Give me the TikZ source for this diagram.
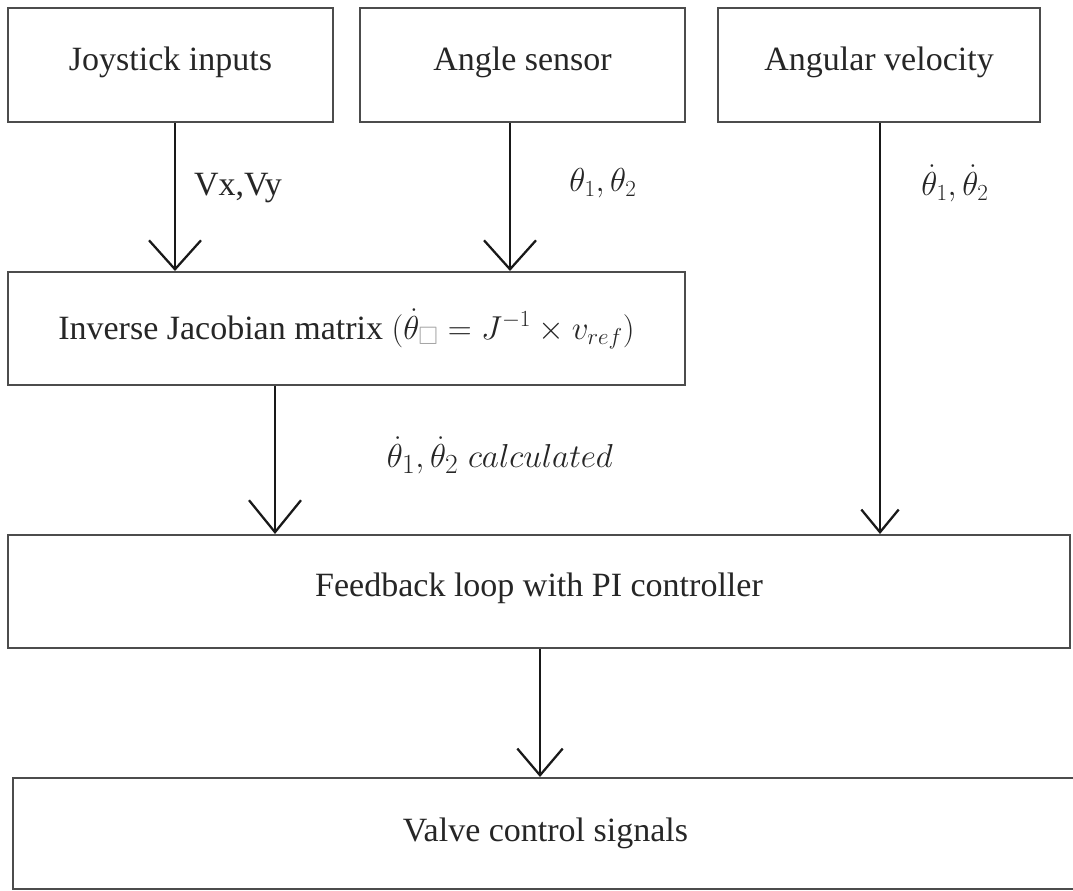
\documentclass[tikz,border=0pt]{standalone}
\usepackage{fontspec}
\setmainfont{Liberation Serif}
\usepackage{amssymb}
\usetikzlibrary{arrows.meta}
\begin{document}
\begin{tikzpicture}[x=0.75pt,y=-0.75pt,
  box/.style={draw=black!70,line width=1.5pt,fill=white,inner sep=0pt,text=black!85,font=\fontsize{25.5}{30}\selectfont},
  lbl/.style={inner sep=0pt,text=black!85,font=\fontsize{25.5}{30}\selectfont},
  mlbl/.style={inner sep=0pt,text=black!85,font=\fontsize{27}{32}\selectfont},
  conn/.style={line width=1.7pt,draw=black!90},
  tipbig/.style={-{Straight Barb[length=21.75pt,width=39pt]}},
  tipmid/.style={-{Straight Barb[length=24pt,width=39pt]}},
  tipsmall/.style={-{Straight Barb[length=17pt,width=28pt]}},
  tipval/.style={-{Straight Barb[length=20pt,width=34pt]}}]
\useasboundingbox (0,0) rectangle (1073,891);
\fill[white] (0,0) rectangle (1073,891);
\clip (0,0) rectangle (1073,891);

\node[box,minimum width=243.75pt,minimum height=85.5pt] (j) at (170.5,65) {\raisebox{9.75pt}{Joystick inputs}};
\node[box,minimum width=243.75pt,minimum height=85.5pt] (a) at (522.5,65) {\raisebox{9.75pt}{Angle sensor}};
\node[box,minimum width=241.5pt,minimum height=85.5pt] (av) at (879,65) {\raisebox{9.75pt}{Angular velocity}};
\node[box,minimum width=507.75pt,minimum height=84.75pt] (ij) at (346.5,328.5) {\raisebox{3.4pt}{Inverse Jacobian matrix {\fontsize{27}{32}\selectfont$(\dot\theta_{\textcolor{black!35}{\square}} = J^{-1}\times v_{ref})$}}};
\node[box,minimum width=796.5pt,minimum height=84.75pt] (fb) at (539,591.5) {\raisebox{9.5pt}{Feedback loop with PI controller}};
\node[box,minimum width=798.75pt,minimum height=83.25pt] (vc) at (545.5,833.5) {\raisebox{4.5pt}{Valve control signals}};

\node[lbl] (lvxy) at (238,188) {Vx,Vy};
\node[mlbl] (lth) at (603,183) {$\theta_1, \theta_2$};
\node[mlbl] (lthd) at (955,183) {$\dot\theta_1, \dot\theta_2$};
\node[mlbl,font=\fontsize{28.5}{34}\selectfont] (lcalc) at (500,455) {$\dot\theta_1, \dot\theta_2\ calculated$};

\coordinate (ja) at ([xshift=3.375pt]j.south);
\coordinate (aa) at ([xshift=-9.375pt]a.south);
\coordinate (ava) at ([xshift=0.75pt]av.south);
\coordinate (ija) at ([xshift=-53.625pt]ij.south);
\coordinate (fba) at ([xshift=0.75pt]fb.south);

\draw[conn,tipbig] (ja) -- (ja |- ij.north);
\draw[conn,tipbig] (aa) -- (aa |- ij.north);
\draw[conn,tipsmall] (ava) -- (ava |- fb.north);
\draw[conn,tipmid] (ija) -- (ija |- fb.north);
\draw[conn,tipval] (fba) -- (fba |- vc.north);
\end{tikzpicture}
\end{document}
